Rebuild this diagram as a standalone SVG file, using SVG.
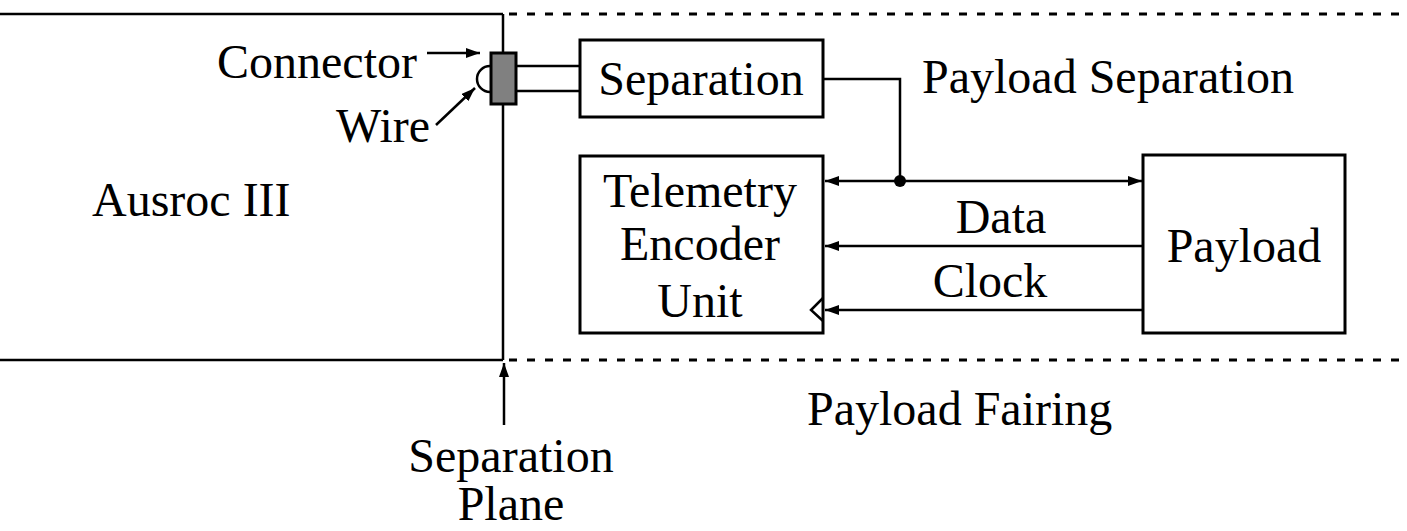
<svg xmlns="http://www.w3.org/2000/svg" width="1407" height="531" viewBox="0 0 1407 531">
<style>
text{font-family:"Liberation Serif","Times New Roman",serif;font-size:48px;fill:#000}
.box{fill:#fff;stroke:#000;stroke-width:3}
.ln{fill:none;stroke:#000;stroke-width:2.5}
.dash{fill:none;stroke:#000;stroke-width:3;stroke-dasharray:8 10}
.mid{text-anchor:middle}
</style>
<defs>
<marker id="ah" viewBox="0 0 14 10" refX="14" refY="5" markerWidth="14" markerHeight="10" markerUnits="userSpaceOnUse" orient="auto-start-reverse">
<path d="M0,0 L14,5 L0,10 Z" fill="#000"/>
</marker>
</defs>
<g id="frame">
<line class="ln" x1="0" y1="14" x2="503" y2="14" stroke-width="3"/>
<line class="ln" x1="0" y1="360" x2="503" y2="360" stroke-width="3"/>
<line class="ln" x1="503" y1="14" x2="503" y2="360" stroke-width="3"/>
<line class="dash" x1="509" y1="14" x2="1407" y2="14"/>
<line class="dash" x1="509" y1="360" x2="1407" y2="360"/>
</g>
<g id="labels">
<text x="92" y="216">Ausroc III</text>
<text x="217" y="78">Connector</text>
<text x="336" y="142">Wire</text>
<text x="922" y="93">Payload Separation</text>
<text x="807" y="425">Payload Fairing</text>
<text class="mid" x="511" y="472">Separation</text>
<text class="mid" x="511" y="520">Plane</text>
<text class="mid" x="1001" y="233">Data</text>
<text class="mid" x="990" y="297">Clock</text>
</g>
<g id="connector">
<path class="ln" d="M490,66 A13,13 0 0 0 490,92"/>
<rect x="491" y="53" width="25" height="51" fill="#808080" stroke="#000" stroke-width="3"/>
<line class="ln" x1="516" y1="66" x2="580" y2="66"/>
<line class="ln" x1="516" y1="91" x2="580" y2="91"/>
</g>
<g id="separation">
<rect class="box" x="580" y="40" width="243" height="77"/>
<text class="mid" x="701" y="95">Separation</text>
</g>
<g id="telemetry">
<rect class="box" x="580" y="156" width="243" height="177"/>
<text class="mid" x="700" y="207">Telemetry</text>
<text class="mid" x="700" y="260">Encoder</text>
<text class="mid" x="700" y="317">Unit</text>
<path d="M823,298 L811,310 L823,321" fill="none" stroke="#000" stroke-width="2.5"/>
</g>
<g id="payload">
<rect class="box" x="1143" y="155" width="202" height="178"/>
<text class="mid" x="1244" y="262">Payload</text>
</g>
<g id="connectors">
<line class="ln" x1="427" y1="53" x2="480" y2="53" marker-end="url(#ah)"/>
<line class="ln" x1="436" y1="125" x2="475" y2="88" marker-end="url(#ah)"/>
<line class="ln" x1="504" y1="425" x2="504" y2="363" marker-end="url(#ah)"/>
<polyline class="ln" points="823,79 900,79 900,181"/>
<line class="ln" x1="825" y1="181" x2="1142" y2="181" marker-start="url(#ah)" marker-end="url(#ah)"/>
<circle cx="900" cy="181" r="6" fill="#000"/>
<line class="ln" x1="1143" y1="246" x2="825" y2="246" marker-end="url(#ah)"/>
<line class="ln" x1="1143" y1="310" x2="825" y2="310" marker-end="url(#ah)"/>
</g>
</svg>
